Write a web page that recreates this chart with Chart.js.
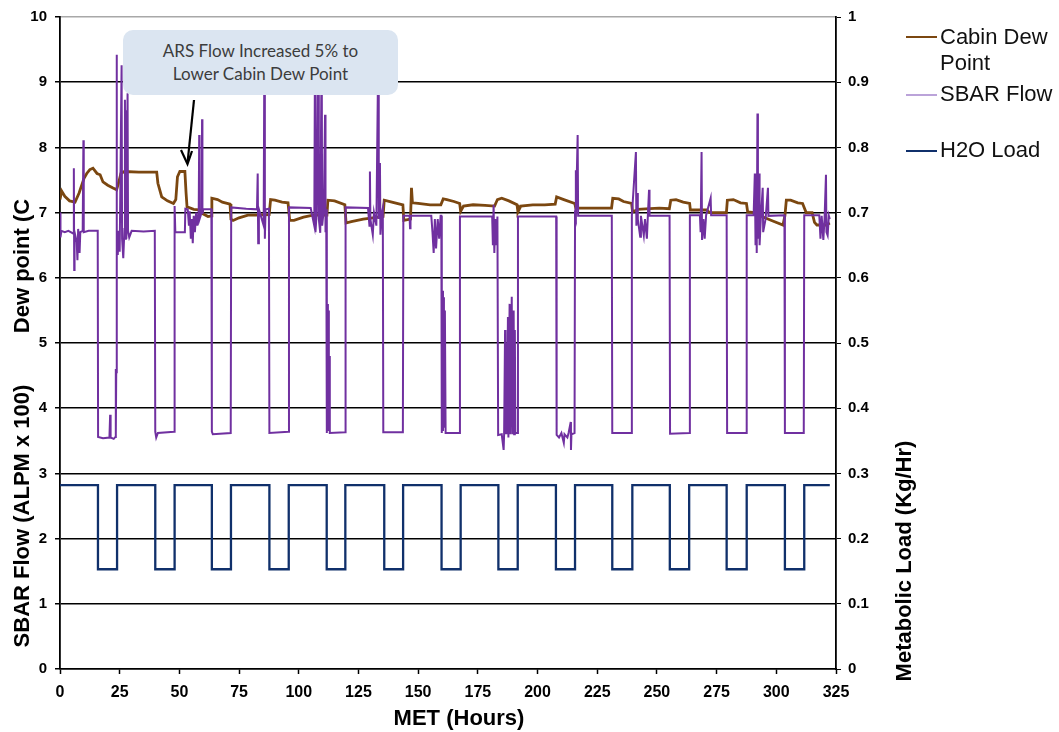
<!DOCTYPE html>
<html>
<head>
<meta charset="utf-8">
<script src="https://cdn.jsdelivr.net/npm/chart.js@4/dist/chart.umd.min.js"></script>
<style>
  html, body { margin: 0; padding: 0; background: #fff; }
  #wrap { position: relative; width: 1059px; height: 732px; }
  #chart { position: absolute; left: 0; top: 0; }
  .note {
    position: absolute; left: 123px; top: 30px; width: 275px; height: 65px;
    background: #dbe5f1; border-radius: 10px;
    font: 17px Lato, "Open Sans", sans-serif; color: #3c3c3c;
    text-align: center; line-height: 23px; box-sizing: border-box; padding-top: 9px;
  }
  .leg { position: absolute; font: 22px "Liberation Sans", Arial, sans-serif; color: #111; line-height: 26px; }
  .swatch { position: absolute; height: 2px; width: 31px; left: 906px; }
</style>
</head>
<body>
<div id="wrap">
  <canvas id="chart" width="1059" height="732"></canvas>
  <div class="note">ARS Flow Increased 5% to<br>Lower Cabin Dew Point</div>
  <div class="swatch" style="top:36px;background:#7b4710"></div>
  <div class="leg" style="left:940px;top:24px">Cabin Dew<br>Point</div>
  <div class="swatch" style="top:94px;background:#bba3d9"></div>
  <div class="leg" style="left:940px;top:81px">SBAR Flow</div>
  <div class="swatch" style="top:150px;background:#10306b"></div>
  <div class="leg" style="left:940px;top:137px">H2O Load</div>
</div>
<script>
// MET (hours) and cabin dew point (C)
const dewHours = [0, 0.7, 2, 4, 6.3, 8, 10, 11.2, 12.5, 13.8, 15.5, 16.8, 18, 20, 22, 23.7, 24.5, 25.5, 27, 33, 38, 40.5,
  41, 42.6, 45, 47.5, 48.5, 49.2, 50.2, 52.3, 52.8, 53.2, 56, 59.3, 60, 62, 63.4, 63.6, 66, 68, 71.2, 71.6, 72.5, 75,
  78.7, 82, 87.6, 88.2, 90, 93, 95.5, 96.2, 98, 102, 106, 111.8, 112.2, 115, 119.3, 119.8, 122, 127, 131, 135.3, 135.8,
  139, 143.6, 144, 146.8, 147.2, 147.6, 150, 155, 159.5, 160.5, 162, 165, 167.4, 167.8, 169, 173, 178, 182, 183.2, 185,
  188, 191.4, 191.8, 193, 198, 203, 207.4, 208, 211, 215.6, 216, 222, 227, 231, 231.5, 234, 236, 239.4, 239.8, 242, 247,
  251, 255.2, 255.8, 258, 261, 263.7, 264, 268, 271, 272, 276, 279.1, 279.5, 282, 285, 287.5, 288, 291, 294, 298, 302.8,
  303.6, 304.2, 306, 309, 311, 312.5, 315, 316, 317, 321, 322.4];
const dewPoint = [7.2, 7.33, 7.25, 7.18, 7.16, 7.3, 7.52, 7.6, 7.66, 7.68, 7.6, 7.58, 7.47, 7.42, 7.38, 7.35, 7.45, 7.6, 7.63, 7.62, 7.62, 7.62,
  7.45, 7.24, 7.18, 7.14, 7.2, 7.55, 7.63, 7.63, 7.3, 7.09, 7.05, 7.04, 6.98, 6.94, 6.95, 7.22, 7.2, 7.16, 7.13, 6.9, 6.88, 6.92,
  6.96, 6.96, 6.97, 7.2, 7.19, 7.16, 7.15, 6.88, 6.88, 6.93, 6.96, 6.96, 7.19, 7.18, 7.12, 6.84, 6.86, 6.9, 6.92, 6.94, 7.19,
  7.16, 7.12, 6.88, 6.9, 7.38, 7.15, 7.14, 7.12, 7.12, 7.21, 7.2, 7.17, 7.14, 7.02, 7.1, 7.12, 7.11, 7.1, 7.2, 7.22,
  7.18, 7.12, 7.01, 7.1, 7.12, 7.12, 7.13, 7.24, 7.2, 7.14, 7.07, 7.07, 7.07, 7.07, 7.22, 7.21, 7.17, 7.14, 7.01, 7.05, 7.06,
  7.07, 7.06, 7.19, 7.2, 7.16, 7.14, 7.04, 7.04, 7.04, 7.0, 7.0, 7.0, 7.19, 7.2, 7.15, 7.14, 7.01, 7.0, 6.94, 6.88, 6.81,
  6.95, 7.19, 7.19, 7.15, 7.14, 7.0, 7.0, 6.85, 6.81, 6.81, 6.84];

// MET (hours) and SBAR flow (ALPM x 100)
const sbarHours = [0, 0.2, 0.6, 2, 3.5, 5.5, 5.8, 5.95, 6.1, 7, 7.3, 7.6, 8.2, 8.5, 9.5, 9.8, 9.95, 12, 15.8,
  15.95, 18, 20.7, 21, 21.2, 22.5, 23.2, 23.3, 23.45, 23.55, 23.7, 23.85, 24.2, 24.5, 25, 25.8, 26, 26.5, 27, 27.2, 27.4,
  27.6, 27.8, 28.3, 28.5, 29, 30, 35, 39.7,
  39.9, 40.3, 41, 47.8, 48, 48.3, 52.3, 52.5, 53.5, 54, 54.3, 54.8, 55.2, 55.6, 56, 56.5, 57, 57.5, 58.1, 58.3, 58.45,
  59.3, 59.5, 59.65, 60, 63.4, 63.6,
  64, 71.5, 71.7, 78, 82.5, 82.8, 83, 83.3, 85.3, 85.6, 85.8, 86.1, 87.5, 87.7,
  95.7, 95.9, 105, 106.5, 106.8, 107, 107.5, 108.2, 108.4, 109, 109.6, 109.8, 110.5, 111, 111.2, 111.5, 111.7,
  111.8, 112, 112.2, 112.4, 112.6, 112.8, 113, 119.4, 119.6, 129, 129.6, 129.8, 130, 131, 131.5, 132.5, 133.3, 133.5,
  134, 134.2, 134.8, 135.2, 135.4, 143.6, 143.8, 146.4, 146.6, 146.8, 155.5, 156, 156.5, 157, 157.5, 158.2, 158.8,
  159.4, 159.7, 159.9, 160.2, 160.4, 160.6, 160.8, 161.2, 161.5, 167.2, 167.5,
  181, 181.3, 181.6, 181.9, 182.3, 182.8, 183.2, 183.5, 185, 185.8, 186, 186.4, 186.6, 187, 187.2, 187.6, 187.8,
  188.3, 188.5, 189.2, 189.4, 190, 190.2, 190.5, 190.7, 191.6, 191.8,
  207.8, 208, 209, 210, 211, 211.3, 212.5, 213, 213.9, 214, 214.2, 215.5, 215.7, 216, 216.1, 216.8, 217,
  231.1, 231.3, 239.3, 239.5, 241.2, 241.4, 241.8, 242, 243, 243.3, 244.5, 245, 245.8, 246.2, 246.7, 246.9,
  255.3, 255.5, 263.6, 263.8, 268, 268.3, 268.7, 268.9, 269.5, 270, 270.6, 272.5, 272.7,
  279.2, 279.4, 287.4, 287.6, 290.5, 291, 291.3, 291.6, 291.8, 292.1, 292.3, 292.8, 293, 293.5, 294.3, 294.5,
  295.5, 296.5, 296.7, 303.4, 303.6, 311.5, 311.7, 318, 318.5, 319, 319.7, 320.2, 320.8, 321, 321.5, 322, 322.4];
const sbarFlow = [7.0, 6.62, 6.72, 6.7, 6.72, 6.68, 7.68, 6.12, 6.7, 6.55, 6.27, 6.75, 6.38, 6.7, 6.72, 8.11, 6.7, 6.72, 6.72,
  3.56, 3.54, 3.55, 3.9, 3.55, 3.53, 3.56, 4.6, 3.6, 4.55, 9.42, 6.5, 6.35, 6.72, 6.4, 9.26, 6.6, 6.3, 6.75, 8.73, 6.6,
  8.57, 6.6, 8.83, 6.72, 6.62, 6.72, 6.71, 6.72,
  3.64, 3.55, 3.62, 3.64, 7.1, 6.7, 6.7, 7.06, 7.05, 6.8, 7.02, 6.6, 6.9, 6.53, 6.95, 6.7, 7.0, 6.8, 7.03, 8.19, 6.9,
  7.0, 8.43, 6.98, 7.05, 7.05, 3.64,
  3.6, 3.62, 7.08, 7.06, 7.05, 7.6, 6.53, 7.05, 6.8, 9.6, 6.6, 7.05, 7.06, 3.62,
  3.64, 7.08, 7.07, 6.8, 9.6, 6.7, 7.0, 9.6, 6.9, 6.69, 9.6, 6.8, 7.05, 8.5, 6.7, 7.0, 7.05,
  3.62, 5.6, 3.65, 5.5, 3.7, 4.8, 3.62, 3.63, 7.08, 7.07, 6.8, 7.63, 6.9, 6.66, 7.0, 6.8, 9.5, 6.9,
  7.76, 6.66, 7.0, 7.07, 3.63, 3.63, 6.95, 6.95, 6.76, 6.95, 6.95, 6.7, 6.38, 6.9, 6.45, 6.9, 6.6,
  6.95, 6.95, 3.62, 5.8, 3.65, 5.7, 3.7, 5.5, 3.62, 3.62, 6.94,
  6.94, 6.5, 7.12, 6.38, 6.9, 6.5, 6.94, 3.59, 3.6, 3.36, 3.6, 5.2, 3.6, 5.0, 3.6, 5.4, 3.55,
  5.6, 3.6, 5.71, 3.6, 5.5, 3.6, 5.2, 3.62, 3.62, 6.94,
  6.94, 3.59, 3.55, 3.62, 3.47, 3.6, 3.55, 3.62, 3.79, 3.36, 3.6, 3.62, 6.95, 7.65, 6.9, 8.19, 6.95,
  6.95, 3.62, 3.62, 6.95, 7.93, 6.8, 7.3, 6.9, 6.63, 6.95, 6.65, 6.9, 6.6, 6.95, 7.35, 6.95,
  6.95, 3.61, 3.62, 6.96, 6.96, 6.7, 7.93, 6.58, 6.9, 6.6, 6.96, 7.22, 6.96,
  6.96, 3.62, 3.62, 6.96, 6.96, 7.6, 6.5, 7.6, 6.38, 8.52, 6.6, 7.6, 6.5, 6.9, 7.38, 6.7,
  6.9, 7.38, 6.95, 6.96, 3.62, 3.62, 6.96, 6.96, 6.6, 6.95, 6.58, 6.9, 7.58, 6.7, 6.65, 6.95, 6.9];

// MET (hours) where the H2O load changes, and the load from then on (Kg/Hr)
const h2oHours = [0, 15.9, 23.9, 39.9, 48.0, 63.6, 71.6, 87.7, 95.8, 111.7, 119.5, 135.8, 143.7, 159.8,
  167.8, 183.6, 191.7, 207.7, 215.7, 231.3, 239.7, 255.4, 263.5, 279.2, 287.6, 303.6, 311.7, 322.4];
const h2oLoad = [0.282, 0.153, 0.282, 0.153, 0.282, 0.153, 0.282, 0.153, 0.282, 0.153, 0.282, 0.153, 0.282, 0.153,
  0.282, 0.153, 0.282, 0.153, 0.282, 0.153, 0.282, 0.153, 0.282, 0.153, 0.282, 0.153, 0.282, 0.282];

const xTicks = [0, 25, 50, 75, 100, 125, 150, 175, 200, 225, 250, 275, 300, 325];

const toPoints = (xs, ys) => xs.map((x, i) => ({ x: x, y: ys[i] }));

const tickFont = { family: '"Liberation Sans", Arial, sans-serif', weight: 'bold', size: 15 };

const overlay = {
  id: 'overlay',
  afterDraw(chart) {
    const ctx = chart.ctx;
    ctx.save();
    ctx.fillStyle = '#000';
    ctx.font = 'bold 22px "Liberation Sans", Arial, sans-serif';
    ctx.textAlign = 'center';
    ctx.textBaseline = 'middle';
    ctx.fillText('MET (Hours)', 459, 719);

    ctx.save();
    ctx.translate(23, 266);
    ctx.rotate(-Math.PI / 2);
    ctx.fillText('Dew point (C', 0, 0);
    ctx.restore();

    ctx.save();
    ctx.translate(23, 516);
    ctx.rotate(-Math.PI / 2);
    ctx.fillText('SBAR Flow (ALPM x 100)', 0, 0);
    ctx.restore();

    ctx.save();
    ctx.translate(905, 561);
    ctx.rotate(-Math.PI / 2);
    ctx.fillText('Metabolic Load (Kg/Hr)', 0, 0);
    ctx.restore();

    // arrow to the dew point hump
    ctx.strokeStyle = '#000';
    ctx.lineWidth = 2.2;
    ctx.beginPath();
    ctx.moveTo(194, 100);
    ctx.lineTo(187.5, 163);
    ctx.stroke();
    ctx.beginPath();
    ctx.moveTo(181, 150);
    ctx.lineTo(187.5, 164);
    ctx.lineTo(192, 151);
    ctx.stroke();
    ctx.restore();
  }
};

new Chart(document.getElementById('chart'), {
  type: 'line',
  data: {
    datasets: [
      {
        label: 'SBAR Flow',
        data: toPoints(sbarHours, sbarFlow),
        yAxisID: 'y',
        borderColor: '#7030a0',
        borderWidth: 2,
        pointRadius: 0,
        order: 0
      },
      {
        label: 'Cabin Dew Point',
        data: toPoints(dewHours, dewPoint),
        yAxisID: 'y',
        borderColor: '#7b4710',
        borderWidth: 2.8,
        pointRadius: 0,
        order: 1
      },
      {
        label: 'H2O Load',
        data: toPoints(h2oHours, h2oLoad),
        yAxisID: 'y2',
        stepped: 'before',
        borderColor: '#10306b',
        borderWidth: 2.3,
        pointRadius: 0,
        order: 2
      }
    ]
  },
  options: {
    responsive: false,
    animation: false,
    layout: { padding: { left: 0, top: 17, right: 183, bottom: 0 } },
    plugins: { legend: { display: false }, tooltip: { enabled: false } },
    scales: {
      x: {
        type: 'linear',
        min: 0,
        max: 325,
        afterBuildTicks: (scale) => { scale.ticks = xTicks.map(v => ({ value: v })); },
        afterFit: (scale) => { scale.height = 63; },
        ticks: { color: '#000', font: { ...tickFont, size: 16 }, padding: 9, maxRotation: 0 },
        grid: { drawOnChartArea: false, drawTicks: true, tickLength: 5, tickColor: '#000', tickWidth: 1.5 },
        border: { color: '#000', width: 1.5 }
      },
      y: {
        position: 'left',
        min: 0,
        max: 10,
        ticks: { stepSize: 1, color: '#000', font: tickFont, padding: 8 },
        afterFit: (scale) => { scale.width = 60; },
        grid: {
          color: (c) => (c.tick && c.tick.value === 10 ? '#a8a8a8' : '#000'),
          lineWidth: 1.5,
          tickLength: 5,
          tickColor: '#000'
        },
        border: { color: '#000', width: 1.8 }
      },
      y2: {
        position: 'right',
        min: 0,
        max: 1,
        ticks: {
          stepSize: 0.1,
          color: '#000',
          font: tickFont,
          padding: 7,
          callback: (v) => String(Number(v.toFixed(1)))
        },
        afterFit: (scale) => { scale.width = 40; },
        grid: { drawOnChartArea: false, tickLength: 5, tickColor: '#000' },
        border: { color: '#000', width: 1.8 }
      }
    }
  },
  plugins: [overlay]
});
</script>
</body>
</html>
